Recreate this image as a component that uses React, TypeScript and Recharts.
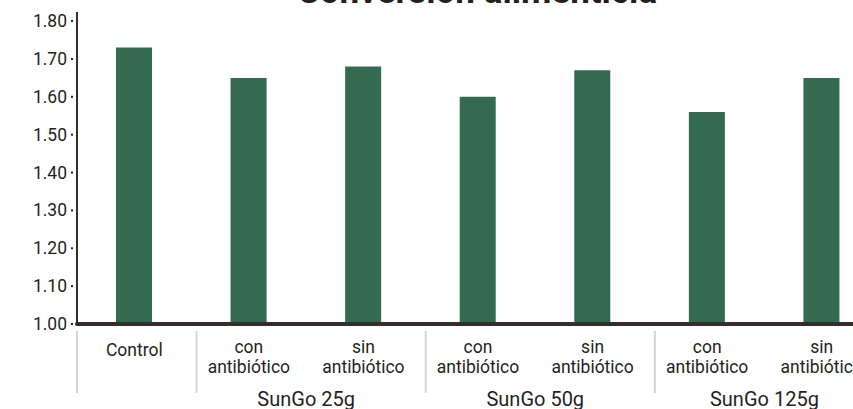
import { BarChart, Bar, XAxis, YAxis } from 'recharts';

// tratamientos (línea superior / inferior de la etiqueta)
const labelTop = ['', 'con', 'sin', 'con', 'sin', 'con', 'sin'];
const labelBottom = ['Control', 'antibiótico', 'antibiótico', 'antibiótico', 'antibiótico', 'antibiótico', 'antibiótico'];
const groups = ['', 'SunGo 25g', '', 'SunGo 50g', '', 'SunGo 125g', ''];
const values = [1.73, 1.65, 1.68, 1.6, 1.67, 1.56, 1.65];
const yTicks = [1.0, 1.1, 1.2, 1.3, 1.4, 1.5, 1.6, 1.7, 1.8];

const data = values.map((v, i) => ({ key: String(i), value: v }));

const CHART_W = 879;
const CHART_H = 409;
const Y_W = 77;
const BAND = (CHART_W - Y_W) / values.length;
const FONT = 'Roboto, sans-serif';
const TEXT = '#231f20';
const AXIS = '#332d2b';
const BAR = '#336a50';

const XTick = (props: any) => {
  const { x, y, payload } = props;
  const i = Number(payload.value);
  const left = x - BAND / 2 + (i > 0 ? 5 : 0);
  return (
    <g>
      {(i === 0 || labelTop[i] === 'con') && (
        <line x1={left} x2={left} y1={y - 1} y2={y + 61} stroke="#d4d4d4" strokeWidth={2} />
      )}
      {labelTop[i] ? (
        <>
          <text x={x} y={y + 21} textAnchor="middle" fontSize={17.5} fontFamily={FONT} fill={TEXT}>
            {labelTop[i]}
          </text>
          <text x={x} y={y + 41} textAnchor="middle" fontSize={17.5} fontFamily={FONT} fill={TEXT}>
            {labelBottom[i]}
          </text>
        </>
      ) : (
        <text x={x} y={y + 24} textAnchor="middle" fontSize={17.5} fontFamily={FONT} fill={TEXT}>
          {labelBottom[i]}
        </text>
      )}
      {groups[i] && (
        <text x={x + BAND / 2} y={y + 74} textAnchor="middle" fontSize={20} fontFamily={FONT} fill={TEXT}>
          {groups[i]}
        </text>
      )}
    </g>
  );
};

const YTick = (props: any) => {
  const { y, payload } = props;
  return (
    <g>
      <text
        x={67}
        y={y}
        textAnchor="end"
        dominantBaseline="central"
        fontSize={17.5}
        fontFamily={FONT}
        fill={TEXT}
      >
        {Number(payload.value).toFixed(2)}
      </text>
      <rect x={71} y={y - 1} width={2} height={2} fill={TEXT} />
    </g>
  );
};

export default function App() {
  return (
    <div
      style={{
        position: 'fixed',
        left: 0,
        top: 0,
        width: 853,
        height: 409,
        overflow: 'hidden',
        background: '#fff',
      }}
    >
      <svg width={853} height={20} style={{ position: 'absolute', left: 0, top: 0 }}>
        <text x={477} y={3} textAnchor="middle" fontSize={35} fontWeight="bold" fontFamily={FONT} fill={TEXT}>
          Conversión alimenticia
        </text>
      </svg>
      <div style={{ position: 'absolute', left: 0, top: 0 }}>
        <BarChart
          width={CHART_W}
          height={CHART_H}
          data={data}
          margin={{ top: 12, right: 0, bottom: 0, left: 0 }}
          barCategoryGap={0}
        >
          <YAxis
            width={Y_W}
            domain={[1, 1.824]}
            ticks={yTicks}
            allowDataOverflow
            axisLine={{ stroke: AXIS, strokeWidth: 2 }}
            tickLine={false}
            tick={<YTick />}
          />
          <Bar dataKey="value" fill={BAR} barSize={36} isAnimationActive={false} />
          <XAxis
            dataKey="key"
            height={85}
            axisLine={{ stroke: AXIS, strokeWidth: 4, strokeLinecap: 'round' }}
            tickLine={false}
            tick={<XTick />}
            interval={0}
          />
        </BarChart>
      </div>
    </div>
  );
}
